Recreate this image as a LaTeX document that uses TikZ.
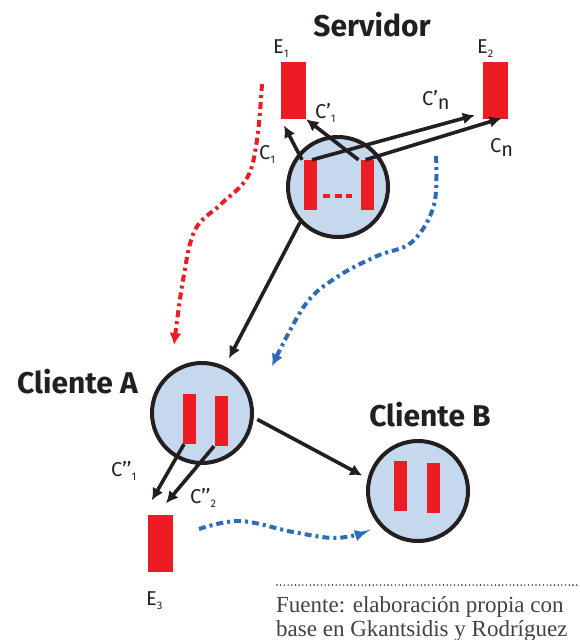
\documentclass[tikz,border=0pt]{standalone}
\usepackage{fontspec}
\setmainfont{Fira Sans}
\newfontfamily\notefont{Liberation Serif}
\usetikzlibrary{arrows.meta}
\definecolor{bred}{HTML}{ED1C24}
\definecolor{lblue}{HTML}{C6D8EE}
\definecolor{dblue}{HTML}{2B6CB8}
\definecolor{ink}{HTML}{231F20}
\newcommand{\lsub}[1]{\raisebox{-4.5pt}{\fontsize{11}{11}\selectfont #1}}
\newcommand{\nsub}[1]{\raisebox{-4pt}{#1}}
\begin{document}
\begin{tikzpicture}[x=1pt,y=-1pt,
  peer/.style={circle, draw=ink, line width=4pt, fill=lblue, minimum size=100pt, inner sep=0pt},
  bar/.style={rectangle, fill=bred, minimum width=13pt, minimum height=50pt, inner sep=0pt},
  filebox/.style={rectangle, fill=bred, minimum width=25pt, minimum height=57pt, inner sep=0pt},
  conn/.style={draw=ink, line width=3.6pt, -{Latex[length=12pt,width=12pt]}},
  flow/.style={line width=4pt, dash pattern=on 7pt off 4pt on 3pt off 4pt, -{Latex[length=12pt,width=12pt]}},
  title/.style={font=\fontsize{30}{30}\selectfont\bfseries, text=ink, anchor=base, inner sep=0pt},
  lbl/.style={font=\fontsize{20}{20}\selectfont, text=ink, inner sep=0pt, anchor=base west},
]
\path[use as bounding box] (0,0) rectangle (580,640);

% titles
\node[title] (tsrv) at (372,36) {Servidor};
\node[title] (tca) at (77.5,393) {Cliente A};
\node[title] (tcb) at (430,426) {Cliente B};

% peers
\node[peer] (srv) at (338,187) {};
\node[peer] (ca) at (202,413) {};
\node[peer] (cb) at (418,491) {};

% bars
\node[bar] (s1) at (310.5,185) {};
\node[bar] (s2) at (367.5,185) {};
\node[bar] (a1) at (189.5,419) {};
\node[bar] (a2) at (221.5,421) {};
\node[bar] (b1) at (400.5,486) {};
\node[bar] (b2) at (433.5,488) {};
\draw[bred, line width=3.5pt, dash pattern=on 7pt off 4.5pt] ([xshift=6pt,yshift=-11pt]s1.east) -- ([xshift=-9pt,yshift=-11pt]s2.west);

% files
\node[filebox] (e1) at (293.5,90.5) {};
\node[filebox] (e2) at (495.5,90.5) {};
\node[filebox] (e3) at (160.5,543) {};

% file labels
\node[lbl] (le1) at (273,53) {E\lsub{1}};
\node[lbl] (le2) at (477,53) {E\lsub{2}};
\node[lbl] (le3) at (146,605) {E\lsub{3}};

% server connections
\draw[conn, shorten >=7pt] ([xshift=-8.5pt]s1.north) -- (e1.south west);
\draw[conn] ([xshift=-9pt]s2.north) -- (e1.south east);
\draw[conn] ([xshift=1.5pt]s1.north) -- ([xshift=-8pt,yshift=4pt]e2.south west);
\draw[conn] ([xshift=-2pt]s2.north) -- ([xshift=6pt,yshift=1pt]e2.south);

\node[lbl] (lc1) at (259,159) {C\lsub{1}};
\node[lbl] (lcp1) at (315,118) {C’\lsub{1}};
\node[lbl] (lcpn) at (422,105) {C’\nsub{n}};
\node[lbl] (lcn) at (490,152) {C\nsub{n}};

% server -> client A, A -> B
\draw[conn, shorten >=9pt] (srv.223) -- (ca.64);
\draw[conn, shorten <=4pt, shorten >=6pt] (ca.355) -- (cb.166);

% client A -> E3
\draw[conn] ([xshift=-5.5pt]a1.south) -- ([xshift=4pt,yshift=14pt]e3.north west);
\draw[conn] ([xshift=-7.5pt]a2.south) -- ([xshift=5.5pt,yshift=11pt]e3.north);
\node[lbl] (lca1) at (111,476) {C’’\lsub{1}};
\node[lbl] (lca2) at (190,503) {C’’\lsub{2}};

% dashed flows
\draw[flow, bred] plot[smooth, tension=0.6] coordinates {(262,84) (257,140) (247,178) (220,205) (195,230) (183,280) (174,345)};
\draw[flow, dblue] plot[smooth, tension=0.6] coordinates {(436,156) (434,205) (412,242) (377,256) (337,277) (305,305) (272,366)};
\draw[flow, dblue] plot[smooth, tension=0.6] coordinates {(199,529) (240,521) (293,532) (335,538) (367,532)};

% source note
\draw[ink, line width=1.6pt, line cap=round, dash pattern=on 0pt off 3.7pt] (277,585) -- (580,585);
\node[anchor=base west, inner sep=0pt, font=\notefont\fontsize{23}{23}\selectfont, text=ink!85] (n1) at (276,612) {Fuente: elaboración propia con};
\node[anchor=base west, inner sep=0pt, font=\notefont\fontsize{23}{23}\selectfont, text=ink!85] (n2) at (276,636) {base en Gkantsidis y Rodríguez};
\end{tikzpicture}
\end{document}
